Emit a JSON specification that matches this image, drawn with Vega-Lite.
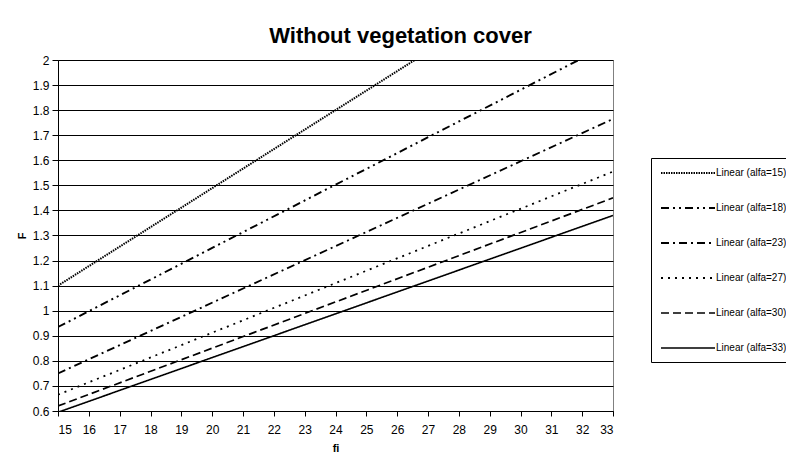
{
  "$schema": "https://vega.github.io/schema/vega-lite/v6.json",
  "autosize": "none",
  "width": 555,
  "height": 351,
  "padding": {"left": 58, "top": 60, "right": 173, "bottom": 50},
  "background": "white",
  "config": {
    "font": "Liberation Sans",
    "view": {"stroke": "#808080", "strokeWidth": 1}
  },
  "title": {
    "text": "Without vegetation cover",
    "fontSize": 22,
    "fontWeight": "bold",
    "font": "Liberation Sans",
    "color": "black",
    "anchor": "middle",
    "dx": 65,
    "offset": 6
  },
  "data": {
    "values": [
      {"series": "Linear (alfa=15)", "fi": 15, "F": 1.10},
      {"series": "Linear (alfa=15)", "fi": 33, "F": 2.50},
      {"series": "Linear (alfa=18)", "fi": 15, "F": 0.935},
      {"series": "Linear (alfa=18)", "fi": 33, "F": 2.07},
      {"series": "Linear (alfa=23)", "fi": 15, "F": 0.75},
      {"series": "Linear (alfa=23)", "fi": 33, "F": 1.765},
      {"series": "Linear (alfa=27)", "fi": 15, "F": 0.665},
      {"series": "Linear (alfa=27)", "fi": 33, "F": 1.555},
      {"series": "Linear (alfa=30)", "fi": 15, "F": 0.62},
      {"series": "Linear (alfa=30)", "fi": 33, "F": 1.45},
      {"series": "Linear (alfa=33)", "fi": 15, "F": 0.595},
      {"series": "Linear (alfa=33)", "fi": 33, "F": 1.38}
    ]
  },
  "mark": {"type": "line", "clip": true, "color": "black"},
  "encoding": {
    "x": {
      "field": "fi",
      "type": "quantitative",
      "scale": {"domain": [15, 33], "nice": false},
      "axis": {
        "title": "fi",
        "titleFontSize": 11,
        "titleFontWeight": "bold",
        "titleColor": "black",
        "titlePadding": 7,
        "values": [15,16,17,18,19,20,21,22,23,24,25,26,27,28,29,30,31,32,33],
        "format": "d",
        "labelFontSize": 12,
        "labelColor": "black",
        "labelPadding": 8,
        "tickSize": 5,
        "tickColor": "black",
        "domainColor": "black",
        "grid": false
      }
    },
    "y": {
      "field": "F",
      "type": "quantitative",
      "scale": {"domain": [0.6, 2], "nice": false, "zero": false},
      "axis": {
        "title": "F",
        "titleFontSize": 11,
        "titleFontWeight": "bold",
        "titleColor": "black",
        "titlePadding": 5,
        "values": [0.6,0.7,0.8,0.9,1,1.1,1.2,1.3,1.4,1.5,1.6,1.7,1.8,1.9,2],
        "format": ".1~f",
        "labelFontSize": 12,
        "labelColor": "black",
        "labelPadding": 3,
        "tickSize": 6,
        "tickColor": "black",
        "domainColor": "black",
        "grid": true,
        "gridColor": "black",
        "gridOpacity": 1,
        "gridWidth": 1
      }
    },
    "strokeDash": {
      "field": "series",
      "type": "nominal",
      "scale": {
        "domain": ["Linear (alfa=15)", "Linear (alfa=18)", "Linear (alfa=23)", "Linear (alfa=27)", "Linear (alfa=30)", "Linear (alfa=33)"],
        "range": [[1.5, 1], [8, 4, 2, 4, 2, 4], [8, 4, 2, 4], [2, 5], [8, 4], [1, 0]]
      },
      "legend": {
        "title": null,
        "orient": "none",
        "legendX": 593,
        "legendY": 98,
        "symbolType": "M-5.4,0H5.4",
        "symbolSize": 100,
        "symbolOffset": 22,
        "symbolStrokeColor": "black",
        "symbolStrokeWidth": 1.5,
        "labelFontSize": 10,
        "labelColor": "black",
        "labelOffset": 22,
        "labelLimit": 300,
        "rowPadding": 24,
        "padding": 9,
        "strokeColor": "black",
        "fillColor": "white"
      }
    },
    "strokeWidth": {
      "field": "series",
      "type": "nominal",
      "scale": {
        "domain": ["Linear (alfa=15)", "Linear (alfa=18)", "Linear (alfa=23)", "Linear (alfa=27)", "Linear (alfa=30)", "Linear (alfa=33)"],
        "range": [2, 1.6, 1.6, 1.8, 1.8, 1]
      },
      "legend": null
    }
  }
}
